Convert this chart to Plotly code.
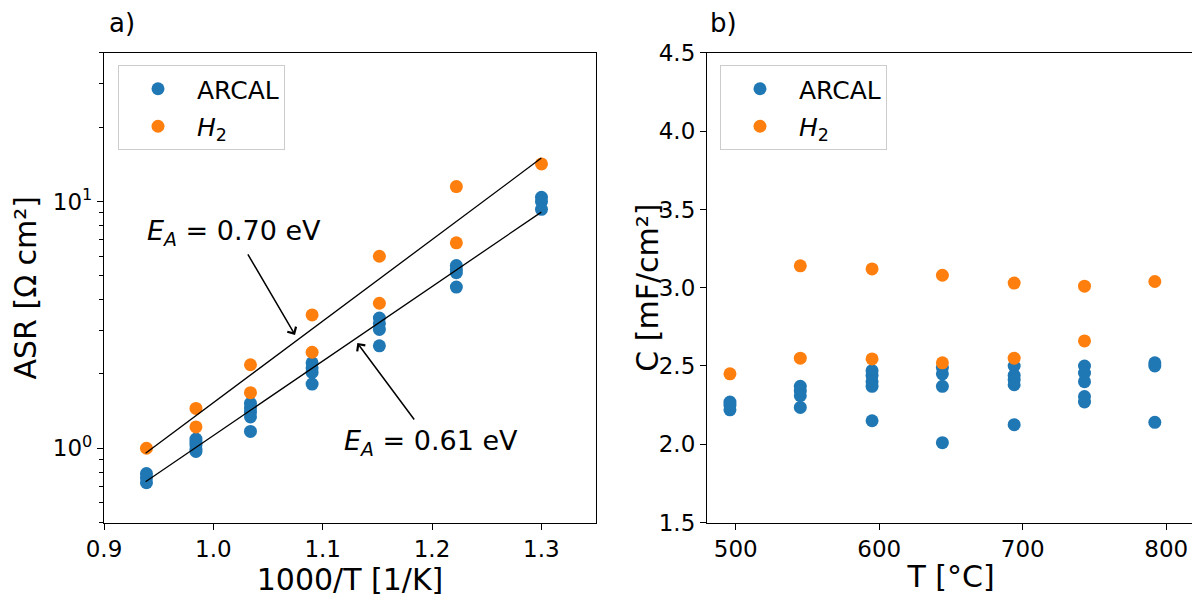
import plotly.graph_objects as go
import math

# ---------------- data ----------------
T_C = [496, 545, 595, 644, 694, 743, 792]

asr_arcal = [
    [10.4, 10.0, 9.3],
    [5.5, 5.3, 5.15, 4.5],
    [3.37, 3.2, 3.03, 2.6],
    [2.22, 2.12, 2.03, 1.82],
    [1.52, 1.46, 1.40, 1.34, 1.17],
    [1.09, 1.06, 1.03, 0.99, 0.97],
    [0.79, 0.76, 0.725],
]
asr_h2 = [
    [14.2],
    [11.5, 6.8],
    [6.0, 3.87],
    [3.47, 2.45],
    [2.18, 1.68],
    [1.45, 1.22],
    [1.0],
]
c_arcal = [
    [2.27, 2.25, 2.22],
    [2.37, 2.34, 2.31, 2.235],
    [2.47, 2.44, 2.40, 2.37, 2.15],
    [2.49, 2.45, 2.37, 2.01],
    [2.50, 2.44, 2.41, 2.38, 2.125],
    [2.50, 2.455, 2.40, 2.305, 2.27],
    [2.52, 2.50, 2.14],
]
c_h2 = [
    [2.45],
    [3.14, 2.55],
    [3.12, 2.545],
    [3.08, 2.52],
    [3.03, 2.55],
    [3.01, 2.66],
    [3.04],
]

fit_x = [0.938, 1.300]
fit_h2 = [0.954, 15.0]
fit_arcal = [0.731, 9.06]

label_h2 = "<i>E</i><sub><i>A</i></sub> = 0.70 eV"
label_arcal = "<i>E</i><sub><i>A</i></sub> = 0.61 eV"

BLUE = "#1f77b4"
ORANGE = "#ff7f0e"
FONT = "DejaVu Sans"


def flatten(groups, xs):
    X, Y = [], []
    for x, g in zip(xs, groups):
        for v in g:
            X.append(x)
            Y.append(v)
    return X, Y


inv_T = [1000.0 / (t + 273.15) for t in T_C]

fig = go.Figure()

# left panel
xa, ya = flatten(asr_arcal, inv_T)
xh, yh = flatten(asr_h2, inv_T)
fig.add_trace(go.Scatter(x=xa, y=ya, mode="markers", name="ARCAL",
                         marker=dict(color=BLUE, size=13), legend="legend",
                         legendgroup="a1", xaxis="x", yaxis="y"))
fig.add_trace(go.Scatter(x=xh, y=yh, mode="markers", name="<i>H</i><sub>2</sub>",
                         marker=dict(color=ORANGE, size=13), legend="legend",
                         legendgroup="a2", xaxis="x", yaxis="y"))
fig.add_trace(go.Scatter(x=fit_x, y=fit_h2, mode="lines", showlegend=False,
                         line=dict(color="black", width=1.3), xaxis="x", yaxis="y"))
fig.add_trace(go.Scatter(x=fit_x, y=fit_arcal, mode="lines", showlegend=False,
                         line=dict(color="black", width=1.3), xaxis="x", yaxis="y"))

# right panel
xa2, ya2 = flatten(c_arcal, T_C)
xh2, yh2 = flatten(c_h2, T_C)
fig.add_trace(go.Scatter(x=xa2, y=ya2, mode="markers", name="ARCAL",
                         marker=dict(color=BLUE, size=13), legend="legend2",
                         legendgroup="b1", xaxis="x2", yaxis="y2"))
fig.add_trace(go.Scatter(x=xh2, y=yh2, mode="markers", name="<i>H</i><sub>2</sub>",
                         marker=dict(color=ORANGE, size=13), legend="legend2",
                         legendgroup="b2", xaxis="x2", yaxis="y2"))

axis_common = dict(showline=True, linecolor="black", linewidth=1.2, mirror=True,
                   ticks="outside", ticklen=6, tickwidth=1.2, tickcolor="black",
                   showgrid=False, zeroline=False, automargin=False,
                   tickfont=dict(family=FONT, size=23, color="black"))

minor_vals = [0.5, 0.6, 0.7, 0.8, 0.9, 2, 3, 4, 5, 6, 7, 8, 9, 20, 30, 40]
TITLE_SIZE = 30
LEG_SIZE = 25

W, H = 1192, 591  # page body adds an 8px offset
Y_DOM = [0.12944, 0.92386]

fig.update_layout(
    width=W, height=H,
    margin=dict(l=0, r=0, t=0, b=0, autoexpand=False),
    paper_bgcolor="white", plot_bgcolor="white",
    font=dict(family=FONT, color="black"),
    xaxis=dict(domain=[0.08054, 0.49329], range=[0.9, 1.35],
               tickvals=[0.9, 1.0, 1.1, 1.2, 1.3], tickformat=".1f",
               title=dict(text="1000/T [1/K]", font=dict(size=TITLE_SIZE), standoff=4),
               anchor="y", **axis_common),
    yaxis=dict(domain=Y_DOM, type="log",
               range=[math.log10(0.5), math.log10(40)],
               tickvals=[1, 10], ticktext=["10<sup>0</sup>", "10<sup>1</sup>"],
               minor=dict(tickvals=minor_vals, ticks="outside", ticklen=3.5,
                          tickwidth=1, tickcolor="black", showgrid=False),
               title=dict(text="ASR [Ω cm²]", font=dict(size=TITLE_SIZE), standoff=8),
               anchor="x", **axis_common),
    xaxis2=dict(domain=[0.58641, 0.99581], range=[480, 820],
                tickvals=[500, 600, 700, 800],
                title=dict(text="T [°C]", font=dict(size=TITLE_SIZE), standoff=4),
                anchor="y2", **axis_common),
    yaxis2=dict(domain=Y_DOM, range=[1.5, 4.5],
                tickvals=[1.5, 2.0, 2.5, 3.0, 3.5, 4.0, 4.5], tickformat=".1f",
                anchor="x2", **axis_common),
    legend=dict(x=0.09228, y=0.90355, xanchor="left", yanchor="top",
                bordercolor="#cccccc", borderwidth=1, bgcolor="white",
                font=dict(size=LEG_SIZE, family=FONT), tracegroupgap=2, itemwidth=68),
    legend2=dict(x=0.5973, y=0.90355, xanchor="left", yanchor="top",
                 bordercolor="#cccccc", borderwidth=1, bgcolor="white",
                 font=dict(size=LEG_SIZE, family=FONT), tracegroupgap=2, itemwidth=68),
)

annotations = [
    dict(text="a)", x=0.0831, y=1 - 15 / H, xref="paper", yref="paper",
         xanchor="left", yanchor="middle", showarrow=False,
         font=dict(size=26, family=FONT)),
    dict(text="b)", x=0.5872, y=1 - 15 / H, xref="paper", yref="paper",
         xanchor="left", yanchor="middle", showarrow=False,
         font=dict(size=26, family=FONT)),
    dict(text="C [mF/cm²]", x=(648 - 8) / W, y=(Y_DOM[0] + Y_DOM[1]) / 2,
         xref="paper", yref="paper", xanchor="center", yanchor="middle",
         textangle=-90, showarrow=False, font=dict(size=TITLE_SIZE, family=FONT)),
    dict(text=label_h2, x=1.019, y=0.875, xref="x", yref="y", showarrow=False,
         font=dict(size=27, family=FONT)),
    dict(text=label_arcal, x=1.1987, y=0.024, xref="x", yref="y", showarrow=False,
         font=dict(size=27, family=FONT)),
    dict(text="", x=1.0747, y=math.log10(2.88), xref="x", yref="y",
         showarrow=True, ax=-48, ay=-82, arrowhead=4, arrowsize=1.3,
         arrowwidth=1.5, arrowcolor="black"),
    dict(text="", x=1.1317, y=math.log10(2.67), xref="x", yref="y",
         showarrow=True, ax=58, ay=78, arrowhead=4, arrowsize=1.3,
         arrowwidth=1.5, arrowcolor="black"),
]
fig.update_layout(annotations=annotations)

fig.write_html("out.html")
